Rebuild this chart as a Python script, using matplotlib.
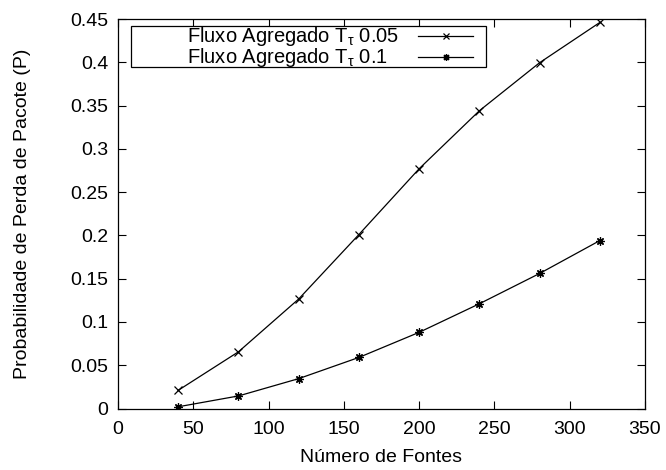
import matplotlib
matplotlib.use("Agg")
import matplotlib.pyplot as plt
from matplotlib.patches import Rectangle
from matplotlib.lines import Line2D

plt.rcParams['font.family'] = ['Liberation Sans', 'DejaVu Sans']
plt.rcParams['mathtext.fontset'] = 'custom'
plt.rcParams['mathtext.rm'] = 'Liberation Sans'
plt.rcParams['mathtext.it'] = 'Liberation Sans'

fontes = [40, 80, 120, 160, 200, 240, 280, 320]
perda_005 = [0.021, 0.0655, 0.1265, 0.201, 0.277, 0.344, 0.3995, 0.446]
perda_01 = [0.002, 0.0145, 0.0345, 0.059, 0.088, 0.121, 0.156, 0.194]
labels = [r"Fluxo Agregado T$_\tau$ 0.05", r"Fluxo Agregado T$_\tau$ 0.1"]
xticks = [0, 50, 100, 150, 200, 250, 300, 350]
yticks = [0, 0.05, 0.1, 0.15, 0.2, 0.25, 0.3, 0.35, 0.4, 0.45]

FS = 14

fig = plt.figure(figsize=(6.66, 4.70), dpi=100)
ax = fig.add_axes([118/666, 1-408.5/470, (645-118)/666, (408.5-19)/470])

ax.plot(fontes, perda_005, color='black', lw=0.9, marker='x', ms=6, mew=0.9)
ax.plot(fontes, perda_01, color='black', lw=0.9, marker=(8, 2, 0), ms=6, mew=0.9)

ax.set_xlim(0, 350)
ax.set_ylim(0, 0.45)
ax.set_xticks(xticks)
ax.set_xticklabels(['%g' % v for v in xticks])
ax.set_yticks(yticks)
ax.set_yticklabels(['%g' % v for v in yticks])
ax.tick_params(direction='in', length=6, width=0.8, top=True, right=True,
               labelsize=FS)
ax.tick_params(axis='x', pad=9)
ax.tick_params(axis='y', pad=7)
for s in ax.spines.values():
    s.set_linewidth(0.9)
ax.set_xlabel("Número de Fontes", fontsize=FS, labelpad=8)
ax.set_ylabel("Probabilidade de Perda de Pacote (P)", fontsize=FS, labelpad=28)

# legend drawn gnuplot-style
x0, x1 = (131-118)/527, (486-118)/527
y0, y1 = (408.5-67.3)/389.5, (408.5-26)/389.5
ax.add_patch(Rectangle((x0, y0), x1-x0, y1-y0, transform=ax.transAxes,
                       fill=True, facecolor='white', edgecolor='black', lw=0.9, zorder=5))
rows = [0.956, 0.902]
markers = ['x', (8, 2, 0)]
for lab, yy, mk in zip(labels, rows, markers):
    ax.text(0.131, yy, lab, transform=ax.transAxes, ha='left', va='center',
            fontsize=14.5, zorder=6)
    ax.add_line(Line2D([0.569, 0.674], [yy, yy], transform=ax.transAxes,
                       color='black', lw=0.9, zorder=6))
    ax.add_line(Line2D([0.622], [yy], transform=ax.transAxes, marker=mk,
                       color='black', ms=5, mew=0.9, zorder=6))

fig.savefig("out.png", dpi=100)
